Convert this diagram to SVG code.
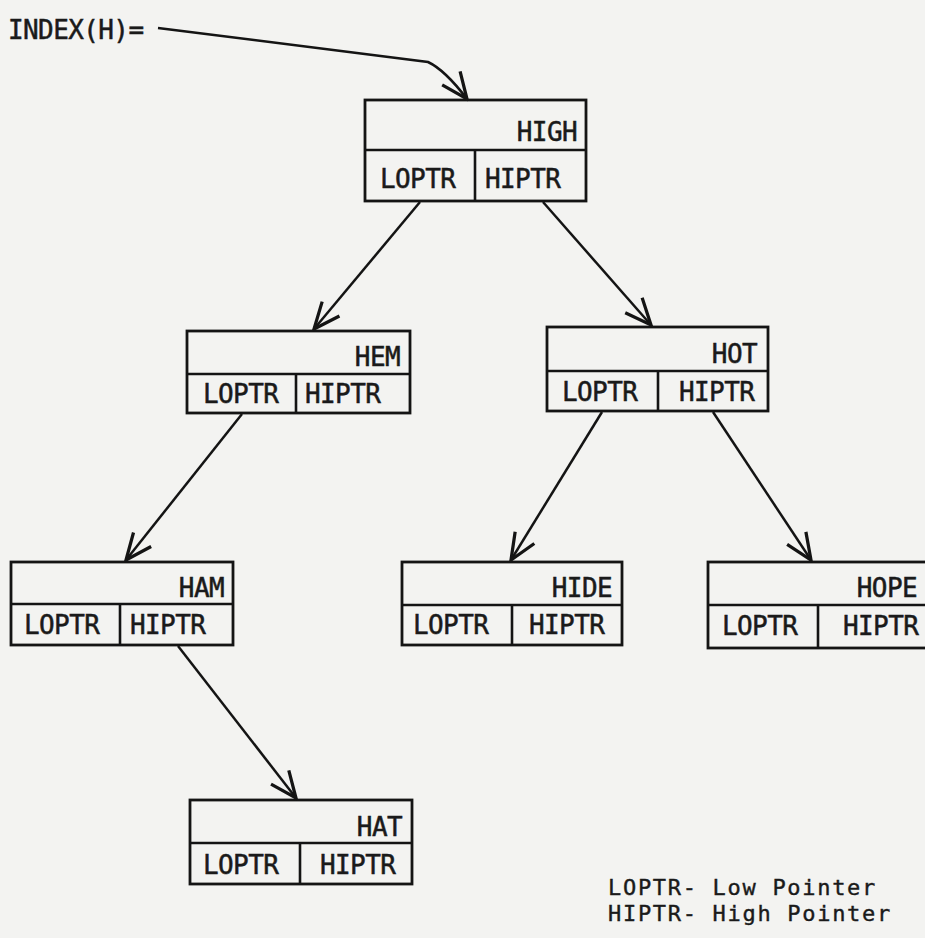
<svg xmlns="http://www.w3.org/2000/svg" width="925" height="938" viewBox="0 0 925 938">
<style>
.bg{fill:#f3f3f1}
.box{fill:none;stroke:#141414;stroke-width:2.8}
.ln{stroke:#141414;stroke-width:2.6;fill:none}
.t{font-family:"DejaVu Sans Mono","Liberation Mono",monospace;font-size:26px;letter-spacing:-0.6px;fill:#1a1a1a;stroke:#1a1a1a;stroke-width:0.5}
.lg{font-family:"DejaVu Sans Mono","Liberation Mono",monospace;font-size:22px;letter-spacing:1.7px;fill:#1a1a1a;stroke:#1a1a1a;stroke-width:0.4}
.r{text-anchor:end}
.c{stroke:#141414;stroke-width:2.5;fill:none;marker-end:url(#ah)}
</style>
<defs>
<marker id="ah" markerUnits="userSpaceOnUse" markerWidth="30" markerHeight="30" refX="22" refY="10" orient="auto" viewBox="0 0 24 20">
<path d="M1,1 L22,10 L1,19" fill="none" stroke="#141414" stroke-width="2.6"/>
</marker>
</defs>
<rect class="bg" x="0" y="0" width="925" height="938"/>

<text class="t" x="8" y="39">INDEX(H)=</text>

<g id="high">
<rect class="box" x="365" y="100" width="221" height="101"/>
<line class="ln" x1="365" y1="150" x2="586" y2="150"/>
<line class="ln" x1="475" y1="150" x2="475" y2="201"/>
<text class="t r" x="577" y="141">HIGH</text>
<text class="t" x="380" y="188">LOPTR</text>
<text class="t" x="485" y="188">HIPTR</text>
</g>

<g id="hem">
<rect class="box" x="187" y="331" width="223" height="82"/>
<line class="ln" x1="187" y1="374" x2="410" y2="374"/>
<line class="ln" x1="296" y1="374" x2="296" y2="413"/>
<text class="t r" x="400" y="366">HEM</text>
<text class="t" x="203" y="403">LOPTR</text>
<text class="t" x="305" y="403">HIPTR</text>
</g>

<g id="hot">
<rect class="box" x="547" y="327" width="221" height="84"/>
<line class="ln" x1="547" y1="371" x2="768" y2="371"/>
<line class="ln" x1="658" y1="371" x2="658" y2="411"/>
<text class="t r" x="757" y="363">HOT</text>
<text class="t" x="562" y="401">LOPTR</text>
<text class="t" x="679" y="401">HIPTR</text>
</g>

<g id="ham">
<rect class="box" x="11" y="562" width="222" height="83"/>
<line class="ln" x1="11" y1="604" x2="233" y2="604"/>
<line class="ln" x1="120" y1="604" x2="120" y2="645"/>
<text class="t r" x="224" y="597">HAM</text>
<text class="t" x="24" y="634">LOPTR</text>
<text class="t" x="130" y="634">HIPTR</text>
</g>

<g id="hide">
<rect class="box" x="402" y="562" width="220" height="83"/>
<line class="ln" x1="402" y1="605" x2="622" y2="605"/>
<line class="ln" x1="512" y1="605" x2="512" y2="645"/>
<text class="t r" x="612" y="597">HIDE</text>
<text class="t" x="413" y="634">LOPTR</text>
<text class="t" x="529" y="634">HIPTR</text>
</g>

<g id="hope">
<rect class="box" x="708" y="562" width="222" height="86"/>
<line class="ln" x1="708" y1="605" x2="925" y2="605"/>
<line class="ln" x1="818" y1="605" x2="818" y2="648"/>
<text class="t r" x="917" y="597">HOPE</text>
<text class="t" x="722" y="635">LOPTR</text>
<text class="t" x="843" y="635">HIPTR</text>
</g>

<g id="hat">
<rect class="box" x="190" y="800" width="222" height="84"/>
<line class="ln" x1="190" y1="843" x2="412" y2="843"/>
<line class="ln" x1="300" y1="843" x2="300" y2="884"/>
<text class="t r" x="402" y="836">HAT</text>
<text class="t" x="203" y="874">LOPTR</text>
<text class="t" x="320" y="874">HIPTR</text>
</g>

<g id="connectors">
<path class="c" d="M158,28 L428,62 Q445,70 467,99"/>
<path class="c" d="M420,202 L314,329"/>
<path class="c" d="M543,202 L651,325"/>
<path class="c" d="M242,414 L126,560"/>
<path class="c" d="M602,412 L511,560"/>
<path class="c" d="M713,412 L811,560"/>
<path class="c" d="M178,646 L296,798"/>
</g>

<text class="lg" x="608" y="895">LOPTR- Low Pointer</text>
<text class="lg" x="608" y="921">HIPTR- High Pointer</text>
</svg>
